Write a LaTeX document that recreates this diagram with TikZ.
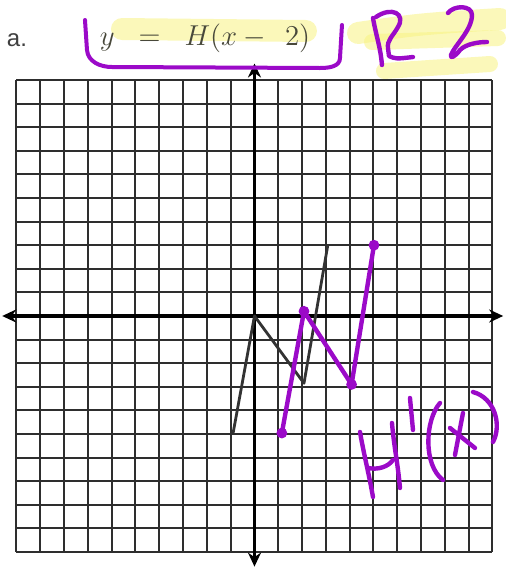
\documentclass[tikz,border=0pt]{standalone}
\usepackage{fontspec}
\newfontfamily\labelfont{Liberation Sans}
\usetikzlibrary{arrows.meta, math}
\definecolor{mypurple}{RGB}{155,10,200}
\definecolor{myyellow}{RGB}{247,243,130}
\definecolor{mygray}{RGB}{72,72,58}

\begin{document}
\begin{tikzpicture}[x=11.9pt, y=11.8pt]
\tikzmath{
\xl=-10.693;
\xr=10.567;
\yb=-10.636;
\yt=13.390;
}
\tikzset{
 hand/.style={line width=2.2pt, color=mypurple, line cap=round, line join=round},
 marker/.style={line width=11pt, color=myyellow, opacity=0.55, line cap=round},
}
\useasboundingbox (\xl,\yb) rectangle (\xr,\yt);

 %grid
 \foreach \i in {-10,...,10}{
 \draw[line width=1pt, color=black!82] (\i,-10) -- (\i,10);
 \draw[line width=1pt, color=black!82] (-10,\i) -- (10,\i);
 }

 %axes
 \draw[{Stealth[length=7pt,width=6.5pt]}-{Stealth[length=7pt,width=6.5pt]}, line width=1.6pt] (-10.6,0) -- (10.45,0);
 \draw[{Stealth[length=7pt,width=6.5pt]}-{Stealth[length=7pt,width=6.5pt]}, line width=1.6pt] (0,-10.62) -- (0,10.7);

 %H(x)
 \coordinate (P1H) at (-0.9,-4.97);
 \coordinate (P2H) at (0,0);
 \coordinate (P3H) at (2.08,-2.85);
 \coordinate (P4H) at (3.08,3);
 \draw[line width=1.4pt, color=black!80, line join=round] (P1H) -- (P2H) -- (P3H) -- (P4H);

 %H(x-2)
 \coordinate (P1S) at (1.15,-4.96);
 \coordinate (P2S) at (2.08,0.2);
 \coordinate (P3S) at (4.08,-2.9);
 \coordinate (P4S) at (5.02,3);
 \draw[hand] (P1S) -- (P2S) -- (P3S) -- (P4S);
 \foreach \p in {P1S,P2S,P3S,P4S} \fill[mypurple] (\p) circle (2.7pt);

 %header, in pixels
 \begin{scope}[shift={(-127.25pt,158.0pt)}, x=0.5pt, y=-0.5pt]
 \draw[marker] (122,29) -- (306,31);
 \draw[marker] (358,33) .. controls (420,24) .. (500,19);
 \draw[marker, line width=8pt] (372,42) -- (498,38);
 \draw[marker, line width=8pt] (384,71) -- (490,64);

 \node[font=\labelfont\fontsize{12}{14}\selectfont, color=black!75] (lbl) at (17,40) {a.};
 \node[font=\fontsize{14}{16}\selectfont, color=mygray] (eqn) at (205,38) {$y\;\;=\;\;H(x-\;\,2)$};

 \draw[hand, line width=2pt] (85,20) -- (87,50) to[out=-85,in=180] (112,67) -- (320,68) to[out=0,in=-90] (340,58) -- (342,25);

 %R 2
 \draw[hand] (373,18) to[out=-80,in=95] (382,65);
 \draw[hand] (376,17) .. controls (392,6) and (406,14) .. (398,27) .. controls (393,36) and (387,40) .. (388,48) -- (389,56) .. controls (396,59) .. (413,57);
 \draw[hand] (448,13) .. controls (454,5) and (472,5) .. (472,15) .. controls (472,30) and (455,45) .. (451,55) .. controls (450,59) and (455,57) .. (460,50) .. controls (466,44) and (478,42) .. (487,42);

 %H'(x)
 \draw[hand] (360,432) to[out=-80,in=100] (373,497);
 \draw[hand] (392,423) to[out=-85,in=95] (400,488);
 \draw[hand] (368,468) .. controls (378,470) and (388,467) .. (393,460);
 \draw[hand] (410,398) -- (413,430);
 \draw[hand] (440,403) .. controls (425,420) and (423,465) .. (443,480);
 \draw[hand] (450,428) -- (475,448);
 \draw[hand] (463,413) -- (455,455);
 \draw[hand] (473,392) .. controls (495,398) and (502,425) .. (493,442);
 \end{scope}

\end{tikzpicture}
\end{document}
